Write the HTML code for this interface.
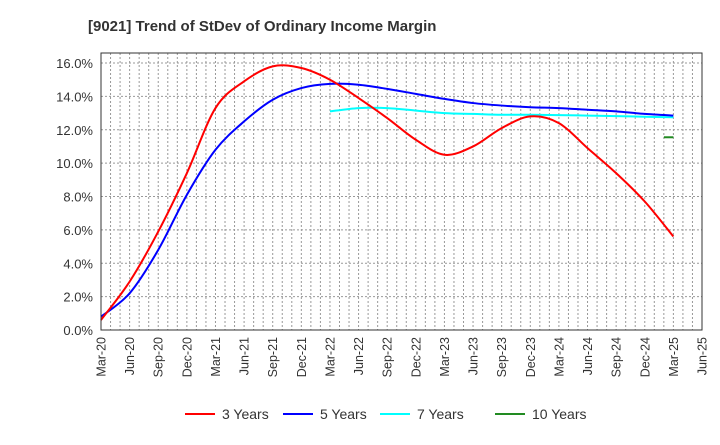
<!DOCTYPE html>
<html><head><meta charset="utf-8"><style>
body{margin:0;background:#fff;font-family:"Liberation Sans",Arial,sans-serif}
svg text{font-family:"Liberation Sans",Arial,sans-serif}
</style></head><body>
<svg id="chart" width="720" height="440" xmlns="http://www.w3.org/2000/svg">
<text x="88" y="31" font-size="15" font-weight="bold" fill="#333">[9021]  Trend of StDev of Ordinary Income Margin</text>
<g id="grid"></g>
<g id="axes"></g>
<g id="series"></g>
<rect x="101" y="53" width="601" height="277" fill="none" stroke="#333" stroke-width="1"/>
<g>
<g><line x1="185" y1="414" x2="215" y2="414" stroke="#f00" stroke-width="2"/><text x="222" y="419" font-size="14" fill="#333">3 Years</text></g>
<g><line x1="283" y1="414" x2="313" y2="414" stroke="#00f" stroke-width="2"/><text x="320" y="419" font-size="14" fill="#333">5 Years</text></g>
<g><line x1="380" y1="414" x2="410" y2="414" stroke="#0ff" stroke-width="2"/><text x="417" y="419" font-size="14" fill="#333">7 Years</text></g>
<g><line x1="495" y1="414" x2="525" y2="414" stroke="#228b22" stroke-width="2"/><text x="532" y="419" font-size="14" fill="#333">10 Years</text></g>
</g>
</svg>
<script>
const xLabels=["Mar-20","Jun-20","Sep-20","Dec-20","Mar-21","Jun-21","Sep-21","Dec-21","Mar-22","Jun-22","Sep-22","Dec-22","Mar-23","Jun-23","Sep-23","Dec-23","Mar-24","Jun-24","Sep-24","Dec-24","Mar-25","Jun-25"];
const yTicks=[0,2,4,6,8,10,12,14,16];
const yTickLabels=["0.0%","2.0%","4.0%","6.0%","8.0%","10.0%","12.0%","14.0%","16.0%"];
const red3=[0.6,2.9,5.9,9.4,13.3,14.9,15.8,15.7,15.0,13.9,12.7,11.4,10.5,11.0,12.1,12.8,12.4,10.9,9.4,7.7,5.6];
const redStart=0;
const blue5=[0.8,2.2,4.8,8.1,10.8,12.5,13.8,14.5,14.75,14.7,14.45,14.15,13.85,13.6,13.45,13.35,13.3,13.2,13.1,12.95,12.85];
const blueStart=0;
const cyan7=[13.1,13.3,13.3,13.15,13.0,12.95,12.9,12.9,12.88,12.85,12.82,12.78,12.75];
const cyanStart=8;
const green10=[11.55,11.55];
const greenX=[19.67,20];

const X0=101,X1=702,Y0=330,YTOP=53,YMAX=16.6;
const xs=q=>X0+(X1-X0)*q/21;
const ys=v=>Y0-(Y0-YTOP)*v/YMAX;
const NS="http://www.w3.org/2000/svg";
const grid=document.getElementById('grid'),axes=document.getElementById('axes'),ser=document.getElementById('series');
function mk(t,a,p){const e=document.createElementNS(NS,t);for(const k in a)e.setAttribute(k,a[k]);p.appendChild(e);return e;}
for(let m=1;m<63;m++){const x=xs(m/3);
 const l=mk('line',{x1:x,x2:x,y1:YTOP,y2:Y0,stroke:'#999','stroke-dasharray':'2,2','stroke-width':1},grid);
 
 }
yTicks.forEach((v,i)=>{const y=ys(v);
 const l=mk('line',{x1:X0,x2:X1,y1:y,y2:y,stroke:'#999','stroke-dasharray':'2,2','stroke-width':1},grid);
 
 
 const t=mk('text',{x:93,y:y+5,'font-size':13,fill:'#333','text-anchor':'end'},axes);t.textContent=yTickLabels[i];
 
 });
xLabels.forEach((s,i)=>{const x=xs(i);
 const t=mk('text',{x:0,y:0,'font-size':12.5,fill:'#333','text-anchor':'end',transform:`translate(${x+4.5},337) rotate(-90)`},axes);t.textContent=s;
 
 });
function smooth(pts){let d=`M${pts[0][0]},${pts[0][1]}`;
 for(let i=0;i<pts.length-1;i++){const p0=pts[Math.max(0,i-1)],p1=pts[i],p2=pts[i+1],p3=pts[Math.min(pts.length-1,i+2)];
  const c1=[p1[0]+(p2[0]-p0[0])/6,p1[1]+(p2[1]-p0[1])/6],c2=[p2[0]-(p3[0]-p1[0])/6,p2[1]-(p3[1]-p1[1])/6];
  d+=` C${c1[0]},${c1[1]} ${c2[0]},${c2[1]} ${p2[0]},${p2[1]}`;}
 return d;}
function draw(vals,start,color,name){const pts=vals.map((v,i)=>[xs(start+i),ys(v)]);
 const p=mk('path',{d:smooth(pts),fill:'none',stroke:color,'stroke-width':2},ser);
 
 }
draw(cyan7,cyanStart,'#0ff','line-7-years');
draw(blue5,blueStart,'#00f','line-5-years');
draw(red3,redStart,'#f00','line-3-years');
const gp=mk('path',{d:'M'+green10.map((v,i)=>xs(greenX[i])+','+ys(v)).join(' L'),fill:'none',stroke:'#228b22','stroke-width':2},ser);


</script>
</body></html>
